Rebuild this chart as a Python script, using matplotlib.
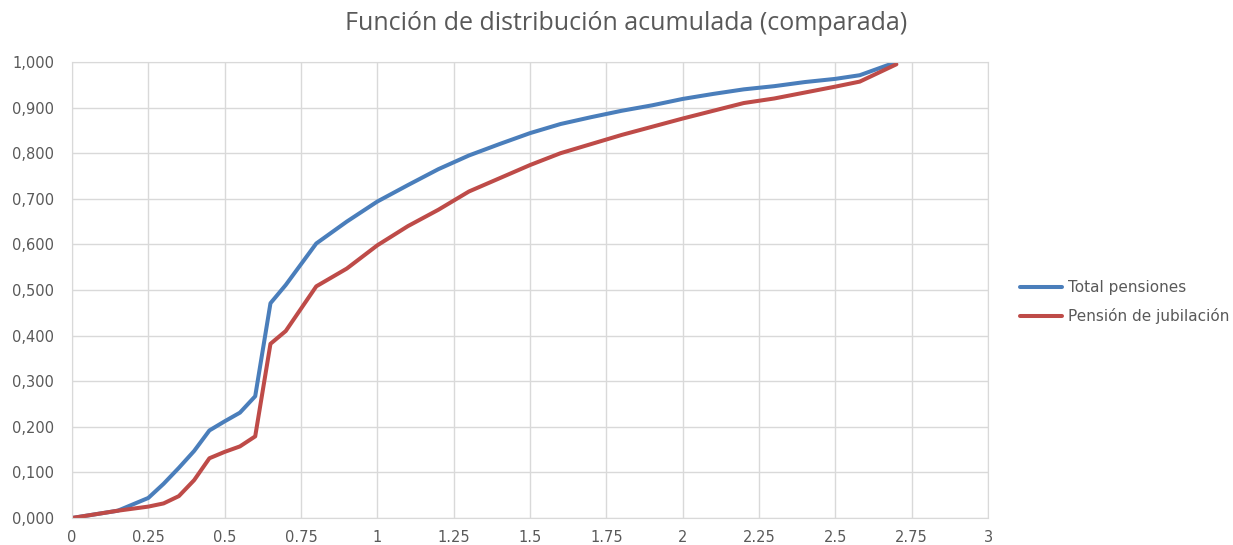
import numpy as np
import matplotlib
matplotlib.use("Agg")
import matplotlib.pyplot as plt

# datos
x_total = [0, 0.15, 0.25, 0.3, 0.35, 0.4, 0.45, 0.5, 0.55, 0.6, 0.65, 0.7, 0.8, 0.9,
           1.0, 1.1, 1.2, 1.3, 1.4, 1.5, 1.6, 1.7, 1.8, 1.9, 2.0, 2.1, 2.2, 2.3, 2.4,
           2.5, 2.58, 2.7]
total_pensiones = [0, 0.016, 0.044, 0.075, 0.11, 0.147, 0.192, 0.212, 0.231, 0.267, 0.471,
                   0.511, 0.602, 0.65, 0.694, 0.73, 0.765, 0.795, 0.82, 0.844, 0.864, 0.879,
                   0.893, 0.905, 0.919, 0.93, 0.94, 0.947, 0.956, 0.963, 0.971, 1.0]
pension_jubilacion = [0, 0.016, 0.025, 0.032, 0.048, 0.083, 0.131, 0.145, 0.157, 0.179, 0.382,
                      0.41, 0.508, 0.547, 0.598, 0.64, 0.676, 0.716, 0.745, 0.774, 0.80, 0.82,
                      0.84, 0.858, 0.876, 0.893, 0.91, 0.92, 0.933, 0.946, 0.957, 0.995]

xticks = np.arange(0, 3.01, 0.25)
xtick_labels = ["0", "0.25", "0.5", "0.75", "1", "1.25", "1.5", "1.75", "2", "2.25",
                "2.5", "2.75", "3"]
yticks = np.arange(0, 1.01, 0.1)
ytick_labels = ["%.3f" % v for v in yticks]
ytick_labels = [s.replace(".", ",") for s in ytick_labels]

plt.rcParams['font.family'] = ['DejaVu Sans']
txt = "#595959"
grid = "#d9d9d9"

fig = plt.figure(figsize=(12.33, 5.45), dpi=100)
ax = fig.add_axes([72/1233, 1-518/545, (988-72)/1233, (518-62)/545])

ax.plot(x_total, total_pensiones, color="#4a7ebb", lw=2.9, label="Total pensiones",
        solid_joinstyle="round", solid_capstyle="round")
ax.plot(x_total, pension_jubilacion, color="#be4b48", lw=2.9, label="Pensión de jubilación",
        solid_joinstyle="round", solid_capstyle="round")

ax.set_xlim(0, 3)
ax.set_ylim(0, 1)
ax.set_xticks(xticks)
ax.set_xticklabels(xtick_labels)
ax.set_yticks(yticks)
ax.set_yticklabels(ytick_labels)
ax.tick_params(axis="y", length=0, colors=txt, labelsize=10.5, pad=13)
ax.tick_params(axis="x", length=0, colors=txt, labelsize=10.5, pad=9)
ax.grid(True, color=grid, lw=1)
ax.set_axisbelow(True)
for s in ax.spines.values():
    s.set_color(grid)

fig.text(626/1233, 1-23/545, "Función de distribución acumulada (comparada)",
         ha="center", va="center", fontsize=18, color=txt, family="Open Sans")

leg = ax.legend(loc="center left", bbox_to_anchor=(1020/1233, 1-302/545),
                bbox_transform=fig.transFigure, frameon=False, fontsize=11,
                handlelength=2.75, handletextpad=0.4, labelspacing=0.85,
                borderpad=0, borderaxespad=0)
for t in leg.get_texts():
    t.set_color(txt)

fig.savefig("out.png", dpi=100)
